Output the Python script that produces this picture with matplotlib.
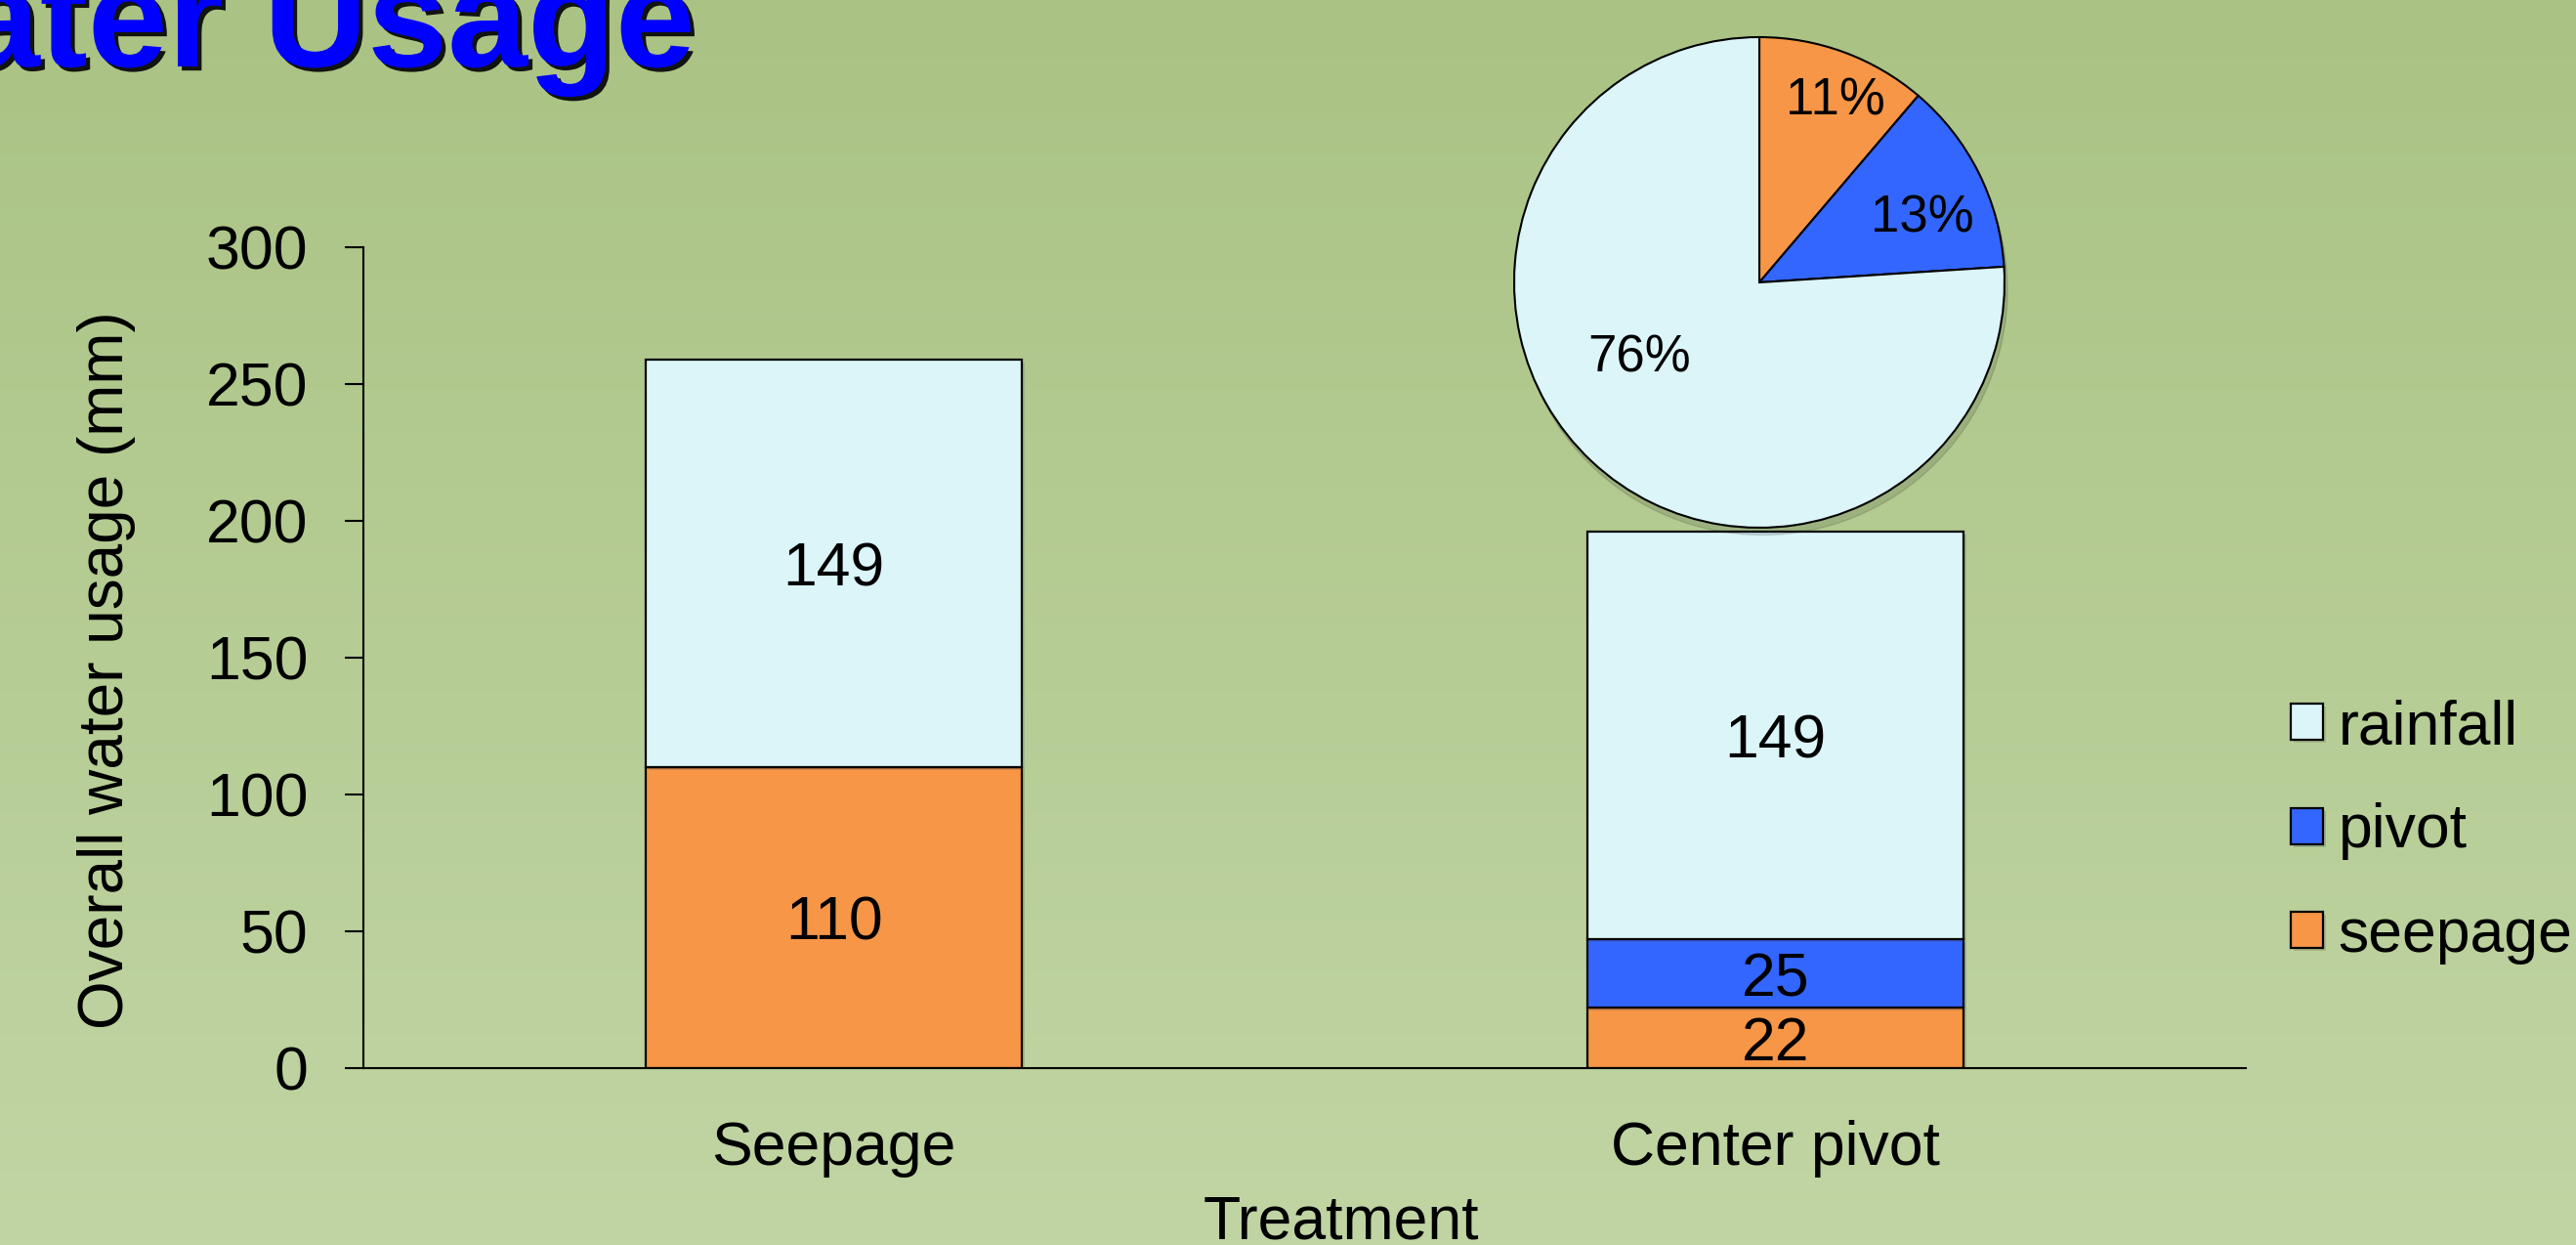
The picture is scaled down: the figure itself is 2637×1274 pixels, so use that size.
import numpy as np
import matplotlib
matplotlib.use("Agg")
import matplotlib.pyplot as plt
import matplotlib.patheffects as pe
from matplotlib.patches import Circle

plt.rcParams['font.family'] = ['Liberation Sans', 'DejaVu Sans']

# water use per treatment (mm)
treatments = ['Seepage', 'Center pivot']
seepage = [110, 22]
pivot = [0, 25]
rainfall = [149, 149]

# share of each source for the center pivot plot
pie_values = [22, 25, 149]
pie_label_pos = [(0.31, 0.74), (0.665, 0.26), (-0.49, -0.31)]

c_seep = '#f79646'
c_pivot = '#3366ff'
c_rain = '#dbf5f9'

W, H = 2637, 1274
fig = plt.figure(figsize=(W / 100, H / 100), dpi=100)

# green backdrop, darker at the top
bg = fig.add_axes([0, 0, 1, 1], zorder=-10)
top = np.array([170, 195, 132]) / 255
bot = np.array([193, 213, 164]) / 255
t = np.linspace(0, 1, 256)[:, None, None]
bg.imshow(top + (bot - top) * t, aspect='auto', extent=[0, 1, 0, 1])
bg.axis('off')

ax = fig.add_axes([372 / W, 181 / H, 1927 / W, 840 / H])
ax.patch.set_visible(False)

x = np.arange(len(treatments))
shade = [pe.SimplePatchShadow(offset=(2, -2), alpha=0.18), pe.Normal()]
bar_kw = dict(width=0.4, edgecolor='black', linewidth=1.6, path_effects=shade)
b_seep = ax.bar(x, seepage, color=c_seep, label='seepage', **bar_kw)
b_pivot = ax.bar(x, pivot, bottom=seepage, color=c_pivot, label='pivot', **bar_kw)
b_rain = ax.bar(x, rainfall, bottom=np.add(seepage, pivot), color=c_rain,
                label='rainfall', **bar_kw)

for bars, vals in [(b_seep, seepage), (b_pivot, pivot), (b_rain, rainfall)]:
    labels = ax.bar_label(bars, labels=[str(v) if v else '' for v in vals],
                          label_type='center', fontsize=45)
    for lab in labels:
        lab.set_va('center_baseline')

ax.set_xlim(-0.5, 1.5)
ax.set_ylim(0, 300)
ax.set_yticks(np.arange(0, 301, 50))
ax.set_xticks(x, treatments)
for s in ['top', 'right']:
    ax.spines[s].set_visible(False)
for s in ['left', 'bottom']:
    ax.spines[s].set_linewidth(1.5)
ax.tick_params(axis='y', length=13.7, width=1.5, pad=27, labelsize=45)
ax.tick_params(axis='x', length=0, pad=38, labelsize=45)
ax.set_ylabel('Overall water usage (mm)', fontsize=46)
ax.yaxis.set_label_coords(-0.121, 0.485)

fig.text(1373 / W, 6 / H, 'Treatment', ha='center', va='baseline', fontsize=45)

fig.legend([b_rain, b_pivot, b_seep], ['rainfall', 'pivot', 'seepage'],
           loc='center left', bbox_to_anchor=(2345 / W, 423 / H),
           frameon=False, fontsize=45, handlelength=0.53, handleheight=0.53,
           handletextpad=0.25, labelspacing=0.76, borderpad=0, borderaxespad=0)

# pie of the center pivot water sources
pax = fig.add_axes([1550 / W, 734 / H, 502 / W, 502 / H])
wedges, texts, autotexts = pax.pie(
    pie_values, colors=[c_seep, c_pivot, c_rain], startangle=90,
    counterclock=False, autopct='%.0f%%',
    wedgeprops=dict(edgecolor='black', linewidth=1.5),
    textprops=dict(fontsize=38))
pax.set_aspect('auto')
pax.set_xlim(-1, 1)
pax.set_ylim(-1, 1)
for w in wedges:
    w.set_clip_on(False)
for txt, pos in zip(autotexts, pie_label_pos):
    txt.set_position(pos)
pax.add_patch(Circle((0.012, -0.03), 1.0, color='black', alpha=0.12,
                     zorder=0, clip_on=False))

fig.text(712 / W, 1 - 68 / H, 'Water Usage', ha='right', va='baseline',
         fontsize=106, fontweight='bold', color='#0000ff',
         path_effects=[pe.withSimplePatchShadow(offset=(3, -3),
                                                shadow_rgbFace='black',
                                                alpha=0.9)])

fig.savefig('out.png', dpi=100)
